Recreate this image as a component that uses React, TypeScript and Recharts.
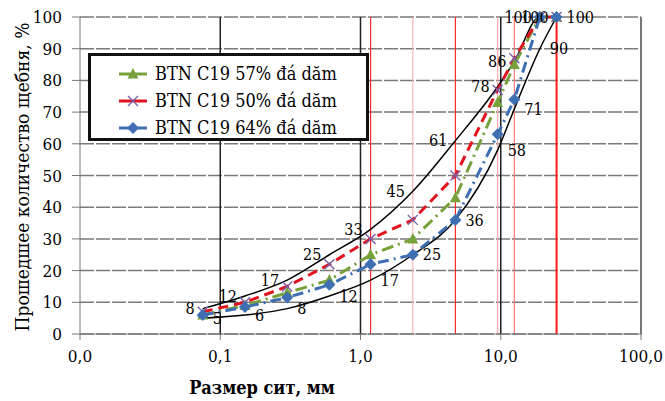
import React from "react";
import {
  LineChart,
  Line,
  XAxis,
  YAxis,
  CartesianGrid,
  ReferenceLine,
  LabelList,
} from "recharts";

// sieve sizes, mm
const sieves = [0.075, 0.15, 0.3, 0.6, 1.18, 2.36, 4.75, 9.5, 12.5, 19, 25];

// envelope (upper / lower limits)
const upperLimit = [8, 12, 17, 25, 33, 45, 61, 78, 86, 100, 100];
const lowerLimit = [5, 6, 8, 12, 17, 25, 36, 58, 71, 90, 100];

// mixes
const mix57 = [6, 9, 13, 17, 25, 30, 43, 73, 85, 100, 100];
const mix50 = [7, 10, 15, 22, 30, 36, 50, 77, 87, 100, 100];
const mix64 = [6, 8.5, 11.5, 15.5, 22, 25, 36, 63, 74, 100, 100];

const xTicks = [0.01, 0.1, 1, 10, 100];
const yTicks = [0, 10, 20, 30, 40, 50, 60, 70, 80, 90, 100];

const blackLines = [0.1, 1, 10];
const redLines = [
  { x: 1.18, color: "#ff2a2a", w: 1.2 },
  { x: 2.36, color: "#ffb3b3", w: 1.2 },
  { x: 4.75, color: "#ff2a2a", w: 1.2 },
  { x: 9.5, color: "#ffa8a8", w: 1.2 },
  { x: 12.5, color: "#ff7a7a", w: 1.2 },
  { x: 25, color: "#ff1a1a", w: 2 },
];

const toPoints = (vals: number[]) => sieves.map((x, i) => ({ x, y: vals[i] }));

const GREEN = "#77a13a";
const RED = "#e0141e";
const PURPLE = "#7b5fa9";
const BLUE = "#3d6fb2";
const FONT = "'DejaVu Serif Condensed', 'DejaVu Serif', serif";

const Triangle = (props: any) => {
  const { cx, cy, index } = props;
  if (cx == null || cy == null) return null;
  return (
    <path
      key={`t-${index}`}
      d={`M${cx},${cy - 6} L${cx + 5.5},${cy + 4.5} L${cx - 5.5},${cy + 4.5} Z`}
      fill={GREEN}
    />
  );
};

const Cross = (props: any) => {
  const { cx, cy, index } = props;
  if (cx == null || cy == null) return null;
  return (
    <path
      key={`c-${index}`}
      d={`M${cx - 5},${cy - 5} L${cx + 5},${cy + 5} M${cx - 5},${cy + 5} L${cx + 5},${cy - 5}`}
      stroke={PURPLE}
      strokeWidth={1.4}
      fill="none"
    />
  );
};

const Diamond = (props: any) => {
  const { cx, cy, index } = props;
  if (cx == null || cy == null) return null;
  return (
    <path
      key={`d-${index}`}
      d={`M${cx},${cy - 6} L${cx + 6},${cy} L${cx},${cy + 6} L${cx - 6},${cy} Z`}
      fill={BLUE}
    />
  );
};

const fmt = (v: number) => v.toFixed(1).replace(".", ",");

const legendItems = [
  { name: "BTN C19 57% đá dăm", color: GREEN, marker: "tri" },
  { name: "BTN C19 50% đá dăm", color: RED, marker: "x" },
  { name: "BTN C19 64% đá dăm", color: BLUE, marker: "dia" },
];

function LegendMarker({ color, marker }: { color: string; marker: string }) {
  return (
    <svg width={28} height={14} style={{ marginRight: 8 }}>
      <line x1={0} y1={7} x2={28} y2={7} stroke={color} strokeWidth={3} />
      {marker === "tri" && <path d="M14,1 L19.5,11.5 L8.5,11.5 Z" fill={GREEN} />}
      {marker === "x" && (
        <path d="M9,2 L19,12 M9,12 L19,2" stroke={PURPLE} strokeWidth={1.4} fill="none" />
      )}
      {marker === "dia" && <path d="M14,1 L20,7 L14,13 L8,7 Z" fill={BLUE} />}
    </svg>
  );
}

export default function App() {
  const labelStyle = { fontSize: 16, fontFamily: FONT, fill: "#000" };
  return (
    <div
      style={{
        position: "absolute",
        left: 0,
        top: 0,
        width: 665,
        height: 401,
        background: "#fff",
        fontFamily: FONT,
      }}
    >
      <LineChart
        width={665}
        height={401}
        margin={{ top: 17, right: 24, bottom: 37, left: 10 }}
      >
        <CartesianGrid
          horizontal
          vertical={false}
          stroke="#7a7a7a"
          strokeDasharray="14 2"
          strokeWidth={1.5}
        />
        <XAxis
          dataKey="x"
          type="number"
          scale="log"
          domain={[0.01, 100]}
          ticks={xTicks}
          tickFormatter={fmt}
          allowDataOverflow
          height={30}
          tickSize={6}
          tickMargin={10}
          stroke="#777"
          tick={{ fill: "#000", fontSize: 17, fontFamily: FONT }}
        />
        <YAxis
          type="number"
          domain={[0, 100]}
          ticks={yTicks}
          width={70}
          tickSize={8}
          tickMargin={10}
          stroke="#777"
          tick={{ fill: "#000", fontSize: 17, fontFamily: FONT }}
        />
        <ReferenceLine x={100} stroke="#777" strokeWidth={2} />
        {blackLines.map((x) => (
          <ReferenceLine key={`b-${x}`} x={x} stroke="#222" strokeWidth={1.5} />
        ))}
        {redLines.map((r) => (
          <ReferenceLine key={`r-${r.x}`} x={r.x} stroke={r.color} strokeWidth={r.w} />
        ))}

        <Line
          data={toPoints(upperLimit)}
          dataKey="y"
          type="monotone"
          stroke="#000"
          strokeWidth={1.5}
          dot={false}
          isAnimationActive={false}
        >
          <LabelList dataKey="y" position="left" offset={8} style={labelStyle} />
        </Line>
        <Line
          data={toPoints(lowerLimit)}
          dataKey="y"
          type="monotone"
          stroke="#000"
          strokeWidth={1.5}
          dot={false}
          isAnimationActive={false}
        >
          <LabelList dataKey="y" position="right" offset={10} style={labelStyle} />
        </Line>
        <Line
          data={toPoints(mix57)}
          dataKey="y"
          type="linear"
          stroke={GREEN}
          strokeWidth={3}
          strokeDasharray="12 5 2 5"
          dot={Triangle}
          isAnimationActive={false}
        />
        <Line
          data={toPoints(mix50)}
          dataKey="y"
          type="linear"
          stroke={RED}
          strokeWidth={3}
          strokeDasharray="10 6"
          dot={Cross}
          isAnimationActive={false}
        />
        <Line
          data={toPoints(mix64)}
          dataKey="y"
          type="linear"
          stroke={BLUE}
          strokeWidth={3}
          strokeDasharray="11 5 2 5"
          dot={Diamond}
          isAnimationActive={false}
        />
      </LineChart>

      {/* legend box */}
      <div
        style={{
          position: "absolute",
          left: 88,
          top: 53,
          width: 281,
          height: 88,
          boxSizing: "border-box",
          border: "3px solid #111",
          background: "#fff",
          paddingLeft: 28,
          paddingTop: 4,
        }}
      >
        {legendItems.map((it) => (
          <div
            key={it.name}
            style={{
              display: "flex",
              alignItems: "center",
              height: 27,
              fontSize: 18,
              color: "#000",
              whiteSpace: "nowrap",
            }}
          >
            <LegendMarker color={it.color} marker={it.marker} />
            <span>{it.name}</span>
          </div>
        ))}
      </div>

      {/* axis titles */}
      <div
        style={{
          position: "absolute",
          left: 22,
          top: 177,
          transform: "translate(-50%, -50%) rotate(-90deg)",
          fontSize: 19,
          whiteSpace: "nowrap",
          color: "#000",
        }}
      >
        Прошедшее количество щебня, %
      </div>
      <div
        style={{
          position: "absolute",
          left: 262,
          top: 387,
          transform: "translate(-50%, -50%)",
          fontSize: 18,
          fontWeight: "bold",
          whiteSpace: "nowrap",
          color: "#000",
        }}
      >
        Размер сит, мм
      </div>
    </div>
  );
}
